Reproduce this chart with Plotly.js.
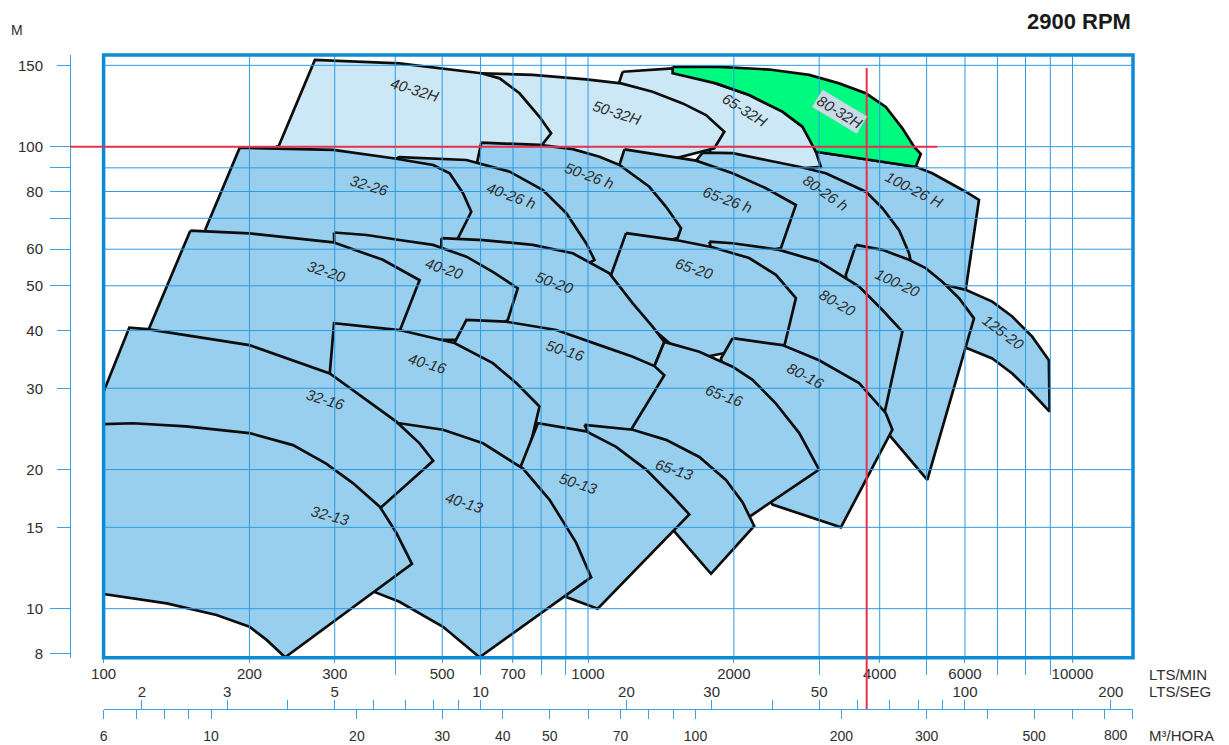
<!DOCTYPE html>
<html><head><meta charset="utf-8">
<script src="https://cdn.plot.ly/plotly-3.0.1.min.js"></script>
<style>html,body{margin:0;padding:0;background:#fff}#chart{width:1229px;height:745px}</style>
</head><body><div id="chart"></div>
<script>
// ---------- DATA (flow in L/min, head in m) ----------
const q100_26H = [2954, 4748, 5136, 6020, 6412, 6020, 5696, 4386, 3989, 2729];
const h100_26H = [97.5, 90.5, 87.6, 79.9, 76.7, 49.0, 46.6, 54.1, 69.4, 86.8];
const q65_32H = [1179, 1495, 1837, 2151, 2520, 2771, 2930, 3024, 2481, 1822, 1697, 1161, 1161];
const h65_32H = [145.3, 147.8, 137.1, 129.4, 119.1, 110.5, 100, 90.5, 89.0, 93.6, 108.7, 132.7, 138.3];
const q50_32H = [602, 769, 991, 1170, 1359, 1568, 1752, 1911, 1822, 1338, 873, 657];
const h50_32H = [144.2, 143.0, 139.9, 137.1, 131.5, 124.1, 117.1, 107.8, 99.2, 91.3, 91.3, 126.2];
const q40_32H = [230, 273, 408, 602, 657, 722, 794, 839, 800, 722, 408, 200];
const h40_32H = [100.5, 154.1, 151.5, 144.2, 140.6, 130.5, 116.1, 106.9, 100.35, 91.3, 89.0, 93.6];
const q80_32H = [1495, 1866, 2366, 2861, 3298, 3745, 4118, 4456, 4710, 4862, 4748, 2954, 2771, 2520, 2151, 1837, 1495];
const h80_32H = [149.0, 148.8, 146.9, 143.0, 137.1, 130.5, 121.9, 109.6, 100, 96.4, 90.5, 97.5, 110.5, 119.1, 129.4, 137.1, 144.2];
const q80_26h = [1724, 1988, 2329, 2729, 3096, 3514, 3745, 4052, 4386, 4599, 4637, 3989, 3543, 2256, 1866, 1738, 1671];
const h80_26h = [97.1, 96.8, 93.6, 90.5, 87.6, 82.6, 79.9, 73.6, 66.0, 58.8, 56.4, 54.1, 47.8, 56.3, 57.4, 76.7, 93.3];
const q65_26h = [1189, 1449, 1671, 1988, 2329, 2686, 2501, 1866, 1338, 1276, 1161];
const h65_26h = [98.7, 95.7, 93.3, 87.6, 81.3, 74.8, 60.3, 56.9, 59.8, 72.9, 91.3];
const q50_26h = [602, 794, 930, 1056, 1161, 1338, 1449, 1556, 1531, 1338, 1133, 794, 626, 590];
const h50_26h = [102.0, 100.9, 98.8, 95.1, 91.3, 81.9, 74.1, 66.6, 63.4, 61.3, 46.6, 54.1, 84.7, 92.3];
const q40_26h = [372, 408, 561, 689, 807, 902, 991, 1031, 1007, 873, 570, 494];
const h40_26h = [91.3, 94.9, 93.6, 88.3, 80.6, 71.8, 61.8, 56.9, 56.1, 54.1, 56.9, 66.0];
const q32_26 = [162, 191, 298, 396, 479, 518, 552, 574, 539, 494, 307, 166];
const h32_26 = [66.0, 99.5, 98.4, 94.4, 91.3, 87.6, 79.3, 72.3, 63.4, 58.3, 59.8, 62.8];
const q125_20 = [5474, 6020, 6831, 7510, 8258, 8939, 8970, 8258, 7510, 6831, 6029, 5560, 5303];
const h125_20 = [50.2, 49.0, 46.2, 42.9, 38.8, 34.5, 26.7, 29.3, 32.3, 34.8, 36.7, 38.2, 49.0];
const q100_20 = [3572, 4052, 4599, 4978, 5386, 5833, 6262, 5016, 4182, 3627, 3405];
const h100_20 = [61.3, 59.8, 56.9, 54.6, 51.0, 47.0, 42.5, 19.0, 23.8, 31.3, 52.8];
const q80_20 = [1780, 1988, 2481, 2999, 3195, 3627, 4052, 4456, 4085, 3458, 2256, 1866, 1797];
const h80_20 = [62.3, 61.8, 59.8, 56.4, 54.1, 49.8, 44.3, 39.8, 26.3, 29.8, 35.4, 56.9, 59.8];
const q65_20 = [1198, 1519, 1807, 2151, 2443, 2686, 2540, 2052, 1618, 1161, 1116];
const h65_20 = [65.0, 62.8, 60.6, 57.4, 52.8, 47.0, 36.9, 36.3, 34.5, 46.6, 52.8];
const q50_20 = [498, 607, 769, 930, 1107, 1237, 1359, 1437, 1371, 1056, 570, 506, 498];
const h50_20 = [63.4, 62.8, 61.3, 58.8, 53.2, 45.8, 40.8, 37.8, 33.5, 34.5, 40.1, 51.4, 59.8];
const q40_20 = [299, 349, 408, 479, 561, 636, 716, 683, 597, 408, 301];
const h40_20 = [65.2, 64.4, 62.8, 61.3, 57.8, 53.6, 49.4, 42.2, 38.2, 38.2, 46.6];
const q32_20 = [151, 200, 298, 377, 449, 410, 410, 307, 125, 124];
const h32_20 = [65.8, 64.9, 62.1, 56.9, 51.4, 40.3, 34.5, 28.3, 37.2, 40.3];
const q80_16 = [1988, 2520, 2999, 3627, 4118, 4249, 3326, 2404, 2052, 1881];
const h80_16 = [38.5, 37.2, 34.5, 30.8, 26.5, 24.4, 15.0, 16.8, 22.1, 34.8];
const q65_16 = [1437, 1697, 1988, 2186, 2443, 2729, 2999, 2151, 1697, 1276, 1161, 1276, 1371];
const h65_16 = [37.8, 36.0, 33.4, 31.3, 27.8, 24.0, 20.0, 15.8, 17.2, 21.5, 25.6, 31.3, 33.5];
const q50_16 = [530, 561, 678, 860, 1056, 1237, 1371, 1437, 1227, 1161, 794, 722];
const h50_16 = [37.6, 42.2, 41.8, 40.1, 37.2, 35.1, 33.5, 32.0, 24.4, 22.1, 23.2, 23.2];
const q40_16 = [293, 299, 408, 530, 636, 711, 794, 740, 657, 408, 338];
const h40_16 = [32.3, 41.5, 40.1, 37.6, 34.0, 30.8, 27.4, 20.1, 20.0, 23.2, 24.4];
const q65_13 = [983, 1237, 1449, 1697, 1926, 2084, 2203, 1794, 1507, 1338, 1007];
const h65_13 = [25.0, 24.4, 23.2, 21.3, 19.0, 17.0, 15.1, 11.9, 14.7, 16.8, 23.8];
const q50_13 = [722, 788, 991, 1143, 1318, 1495, 1618, 1047, 902, 794];
const h50_13 = [20.0, 25.2, 24.2, 22.4, 20.0, 17.5, 16.0, 10.0, 10.6, 12.8];
const q40_13 = [390, 408, 502, 607, 734, 833, 945, 1015, 597, 502, 408, 360, 358, 363];
const h40_13 = [25.2, 25.2, 24.4, 22.8, 20.1, 17.2, 13.9, 11.7, 7.85, 9.14, 10.35, 10.9, 15.6, 24.4];
const q32_16 = [100, 113, 123, 200, 293, 349, 402, 449, 479, 372, 354, 100];
const h32_16 = [29.5, 40.6, 40.3, 37.2, 32.3, 28.3, 25.4, 22.8, 20.9, 16.5, 14.8, 23.2];
const q32_13 = [100, 115, 148, 200, 246, 288, 327, 372, 402, 433, 237, 217, 200, 171, 135, 115, 100];
const h32_13 = [25.1, 25.2, 24.8, 24.0, 22.6, 20.6, 18.7, 16.6, 14.6, 12.5, 7.85, 8.56, 9.14, 9.69, 10.27, 10.53, 10.76];

// pump labels
const labelText = ['40-32H','50-32H','65-32H','80-32H','32-26','40-26 h','50-26 h','65-26 h','80-26 h','100-26 H',
  '32-20','40-20','50-20','65-20','80-20','100-20','125-20','32-16','40-16','50-16','65-16','80-16',
  '32-13','40-13','50-13','65-13'];
const labelQ = [438, 1145, 2101, 3298, 354, 695, 1007, 1939, 3086, 4710,
  289, 506, 852, 1658, 3267, 4344, 7220, 287, 467, 899, 1911, 2807,
  294, 556, 956, 1507];
const labelH = [132.7, 118.3, 120.1, 118.9, 82.6, 78.6, 86.8, 76.7, 79.4, 80.6,
  53.6, 54.6, 50.7, 54.6, 45.9, 50.7, 39.7, 28.4, 33.9, 36.3, 29.0, 31.9,
  15.95, 17.0, 18.7, 20.05];

// operating point lines
const dutyFlow = 3760;      // L/min
const dutyHead = 100;       // m
const dutyHeadTop = 148;    // top end of vertical duty line
const dutyFlowEnd = 5260;   // right end of horizontal duty line

// axis ticks
const lpmLabelVals = [100, 200, 300, 500, 700, 1000, 2000, 4000, 6000, 10000];
const lpmMinorVals = [400, 600, 800, 900, 3000, 5000, 7000, 8000, 9000];
const lpsVals = [2, 3, 4, 5, 6, 7, 8, 9, 10, 20, 30, 40, 50, 60, 70, 80, 90, 100, 200];
const lpsLabels = ['2','3','','5','','','','','10','20','30','','50','','','','','100','200'];
const m3hVals = [6, 7, 8, 9, 10, 20, 30, 40, 50, 60, 70, 80, 90, 100, 200, 300, 400, 500, 600, 700, 800];
const m3hLabels = ['6','','','','10','20','30','40','50','','70','','','100','200','300','','500','','',''];
const headLongVals = [8, 10, 50, 60, 70, 80, 90, 100];
const headLongLabels = ['8','10','50','60','','80','','100'];
const headShortVals = [15, 20, 30, 40, 150];
const gridQ = [200, 300, 400, 500, 600, 700, 800, 900, 1000, 2000, 3000, 4000, 5000, 6000, 7000, 8000, 9000, 10000];
const gridH = [10, 15, 20, 30, 40, 50, 60, 70, 80, 90, 100, 150];

// ---------- BUILD ----------
const pumps = [
  ['100-26H', q100_26H, h100_26H, 'b'], ['65-32H', q65_32H, h65_32H, 'l'], ['50-32H', q50_32H, h50_32H, 'l'],
  ['40-32H', q40_32H, h40_32H, 'l'], ['80-32H', q80_32H, h80_32H, 'g'], ['80-26h', q80_26h, h80_26h, 'b'],
  ['65-26h', q65_26h, h65_26h, 'b'], ['50-26h', q50_26h, h50_26h, 'b'], ['40-26h', q40_26h, h40_26h, 'b'],
  ['32-26', q32_26, h32_26, 'b'], ['125-20', q125_20, h125_20, 'b'], ['100-20', q100_20, h100_20, 'b'],
  ['80-20', q80_20, h80_20, 'b'], ['65-20', q65_20, h65_20, 'b'], ['50-20', q50_20, h50_20, 'b'],
  ['40-20', q40_20, h40_20, 'b'], ['32-20', q32_20, h32_20, 'b'], ['80-16', q80_16, h80_16, 'b'],
  ['65-16', q65_16, h65_16, 'b'], ['50-16', q50_16, h50_16, 'b'], ['40-16', q40_16, h40_16, 'b'],
  ['65-13', q65_13, h65_13, 'b'], ['50-13', q50_13, h50_13, 'b'], ['40-13', q40_13, h40_13, 'b'],
  ['32-16', q32_16, h32_16, 'b'], ['32-13', q32_13, h32_13, 'b']
];
const FILL = {b: '#98cfee', l: '#cce7f6', g: '#00fa80'};
const FONT = 'Liberation Sans, Arial, Helvetica, sans-serif';
const TXT = '#2e2e2e';
const GRID = '#2e9be0';
const BORDER = '#0b8bd6';
const AXC = '#3aa2e3';
const RED = '#e8324b';
const labelAngle = [17, 18, 32, 31, 17, 20, 20, 20, 35, 27, 18, 18, 20, 18, 30, 25, 37, 17, 17, 18, 20, 28, 15, 18, 18, 18];

const L = Math.log10;
const xMaxFlow = 800 * 1000 / 60 * 1.00005;
const xMax = L(xMaxFlow);
const xRange = [2, xMax];
const yRange = [0.89372, 2.19848];
const headMin = Math.pow(10, yRange[0]);
const xDom0 = 0.03161, yDom0 = 0.07829;

const traces = pumps.map(p => ({
  type: 'scatter', mode: 'lines', x: p[1].concat([p[1][0]]), y: p[2].concat([p[2][0]]),
  fill: 'toself', fillcolor: FILL[p[3]], line: {color: '#0d0d0d', width: 2.7},
  hoverinfo: 'skip', showlegend: false, name: p[0]
}));
// empty helper traces so overlay axes get subplots
['x2', 'x3', 'x4'].forEach(ax => traces.push({type: 'scatter', x: [], y: [], xaxis: ax, yaxis: 'y', hoverinfo: 'skip', showlegend: false}));
traces.push({type: 'scatter', x: [], y: [], xaxis: 'x', yaxis: 'y2', hoverinfo: 'skip', showlegend: false});

// shapes on log axes take data values
const shapes = [];
gridQ.forEach(q => shapes.push({type: 'line', xref: 'x', yref: 'y domain', x0: q, x1: q, y0: 0, y1: 1, line: {color: GRID, width: 1}, layer: 'above'}));
gridH.forEach(h => shapes.push({type: 'line', xref: 'x domain', yref: 'y', x0: 0, x1: 1, y0: h, y1: h, line: {color: GRID, width: 1}, layer: 'above'}));
shapes.push({type: 'rect', xref: 'x domain', yref: 'y domain', x0: 0, x1: 1, y0: 0, y1: 1, line: {color: BORDER, width: 3.5}, fillcolor: 'rgba(0,0,0,0)', layer: 'above'});
// duty point lines
shapes.push({type: 'line', xref: 'x', yref: 'y', x0: dutyFlow, x1: dutyFlow, y0: headMin, y1: dutyHeadTop, line: {color: RED, width: 2}, layer: 'above'});
shapes.push({type: 'line', xref: 'x', yref: 'paper', x0: dutyFlow, x1: dutyFlow, y0: 0, y1: yDom0, line: {color: RED, width: 2}, layer: 'above'});
shapes.push({type: 'line', xref: 'x', yref: 'y', x0: 100, x1: dutyFlowEnd, y0: dutyHead, y1: dutyHead, line: {color: RED, width: 2}, layer: 'above'});
shapes.push({type: 'line', xref: 'paper', yref: 'y', x0: 0, x1: xDom0, y0: dutyHead, y1: dutyHead, line: {color: RED, width: 2}, layer: 'above'});

// annotations on log axes take log values
const annotations = labelText.map((t, i) => ({
  xref: 'x', yref: 'y', x: L(labelQ[i]), y: L(labelH[i]), text: t, showarrow: false,
  textangle: labelAngle[i], font: {family: FONT, size: 15, color: TXT, style: 'italic'},
  bgcolor: t === '80-32H' ? '#c9dbe8' : 'rgba(0,0,0,0)', borderpad: 1
}));
const unitFont = {family: FONT, size: 15, color: TXT};
annotations.push({xref: 'paper', yref: 'paper', x: 1.0132, y: 0.052, xanchor: 'left', yanchor: 'middle', text: 'LTS/MIN', showarrow: false, font: unitFont});
annotations.push({xref: 'paper', yref: 'paper', x: 1.0132, y: 0.0275, xanchor: 'left', yanchor: 'middle', text: 'LTS/SEG', showarrow: false, font: unitFont});
annotations.push({xref: 'paper', yref: 'paper', x: 1.0132, y: -0.0405, xanchor: 'left', yanchor: 'middle', text: 'M³/HORA', showarrow: false, font: unitFont});
annotations.push({xref: 'paper', yref: 'paper', x: 0.9972, y: -0.0405, xanchor: 'right', yanchor: 'middle', text: '800', showarrow: false, font: {family: FONT, size: 14, color: TXT}});
annotations.push({xref: 'paper', yref: 'paper', x: -0.0499, y: 1.038, xanchor: 'center', yanchor: 'middle', text: 'M', showarrow: false, font: {family: FONT, size: 14, color: TXT}});
annotations.push({xref: 'paper', yref: 'paper', x: 1.0, y: 1.0505, xanchor: 'right', yanchor: 'middle', text: '<b>2900 RPM</b>', showarrow: false, font: {family: FONT, size: 22, color: '#1a1a1a'}});

const tickFont = {family: FONT, size: 15, color: TXT};
const smallTickFont = {family: FONT, size: 14, color: TXT};
const baseX = {type: 'log', range: xRange, showgrid: false, zeroline: false, fixedrange: true};
const layout = {
  width: 1229, height: 745,
  margin: {l: 70, r: 96, t: 55, b: 36, pad: 0},
  paper_bgcolor: '#ffffff', plot_bgcolor: '#ffffff',
  showlegend: false, hovermode: false,
  font: {family: FONT, size: 14, color: TXT},
  xaxis: Object.assign({}, baseX, {domain: [xDom0, 1], anchor: 'y', side: 'bottom', showline: false,
    ticks: 'outside', ticklen: 4, tickwidth: 1, tickcolor: AXC,
    tickvals: lpmLabelVals, ticktext: lpmLabelVals.map(String), tickfont: tickFont, ticklabelstandoff: -2}),
  xaxis4: Object.assign({}, baseX, {overlaying: 'x', anchor: 'y', side: 'bottom', showline: false,
    ticks: 'outside', ticklen: 16, tickwidth: 1, tickcolor: AXC, tickvals: lpmMinorVals, showticklabels: false}),
  xaxis2: Object.assign({}, baseX, {overlaying: 'x', range: [L(100 / 60), L(xMaxFlow / 60)], anchor: 'free', position: 0, side: 'top',
    showline: true, linecolor: AXC, linewidth: 1, ticks: 'outside', ticklen: 9, tickwidth: 1, tickcolor: AXC,
    tickvals: lpsVals, ticktext: lpsLabels, tickfont: tickFont, ticklabelstandoff: -3}),
  xaxis3: Object.assign({}, baseX, {overlaying: 'x', range: [L(6), L(xMaxFlow * 0.06)], anchor: 'free', position: 0, side: 'bottom',
    showline: true, linecolor: AXC, linewidth: 1, ticks: 'outside', ticklen: 9, tickwidth: 1, tickcolor: AXC,
    tickvals: m3hVals, ticktext: m3hLabels, tickfont: smallTickFont, ticklabelstandoff: 5}),
  yaxis: {type: 'log', range: yRange, domain: [yDom0, 1], anchor: 'free', position: 0, side: 'left',
    showline: true, linecolor: AXC, linewidth: 1, showgrid: false, zeroline: false, fixedrange: true,
    ticks: 'outside', ticklen: 20, tickwidth: 1, tickcolor: AXC,
    tickvals: headLongVals, ticktext: headLongLabels, tickfont: tickFont, ticklabelstandoff: 4},
  yaxis2: {type: 'log', range: yRange, overlaying: 'y', anchor: 'free', position: 0, side: 'left',
    showline: false, showgrid: false, zeroline: false, fixedrange: true,
    ticks: 'outside', ticklen: 13, tickwidth: 1, tickcolor: AXC,
    tickvals: headShortVals, ticktext: headShortVals.map(String), tickfont: tickFont, ticklabelstandoff: 11},
  shapes: shapes,
  annotations: annotations
};
Plotly.newPlot('chart', traces, layout, {staticPlot: true, displayModeBar: false});
</script>
</body></html>
